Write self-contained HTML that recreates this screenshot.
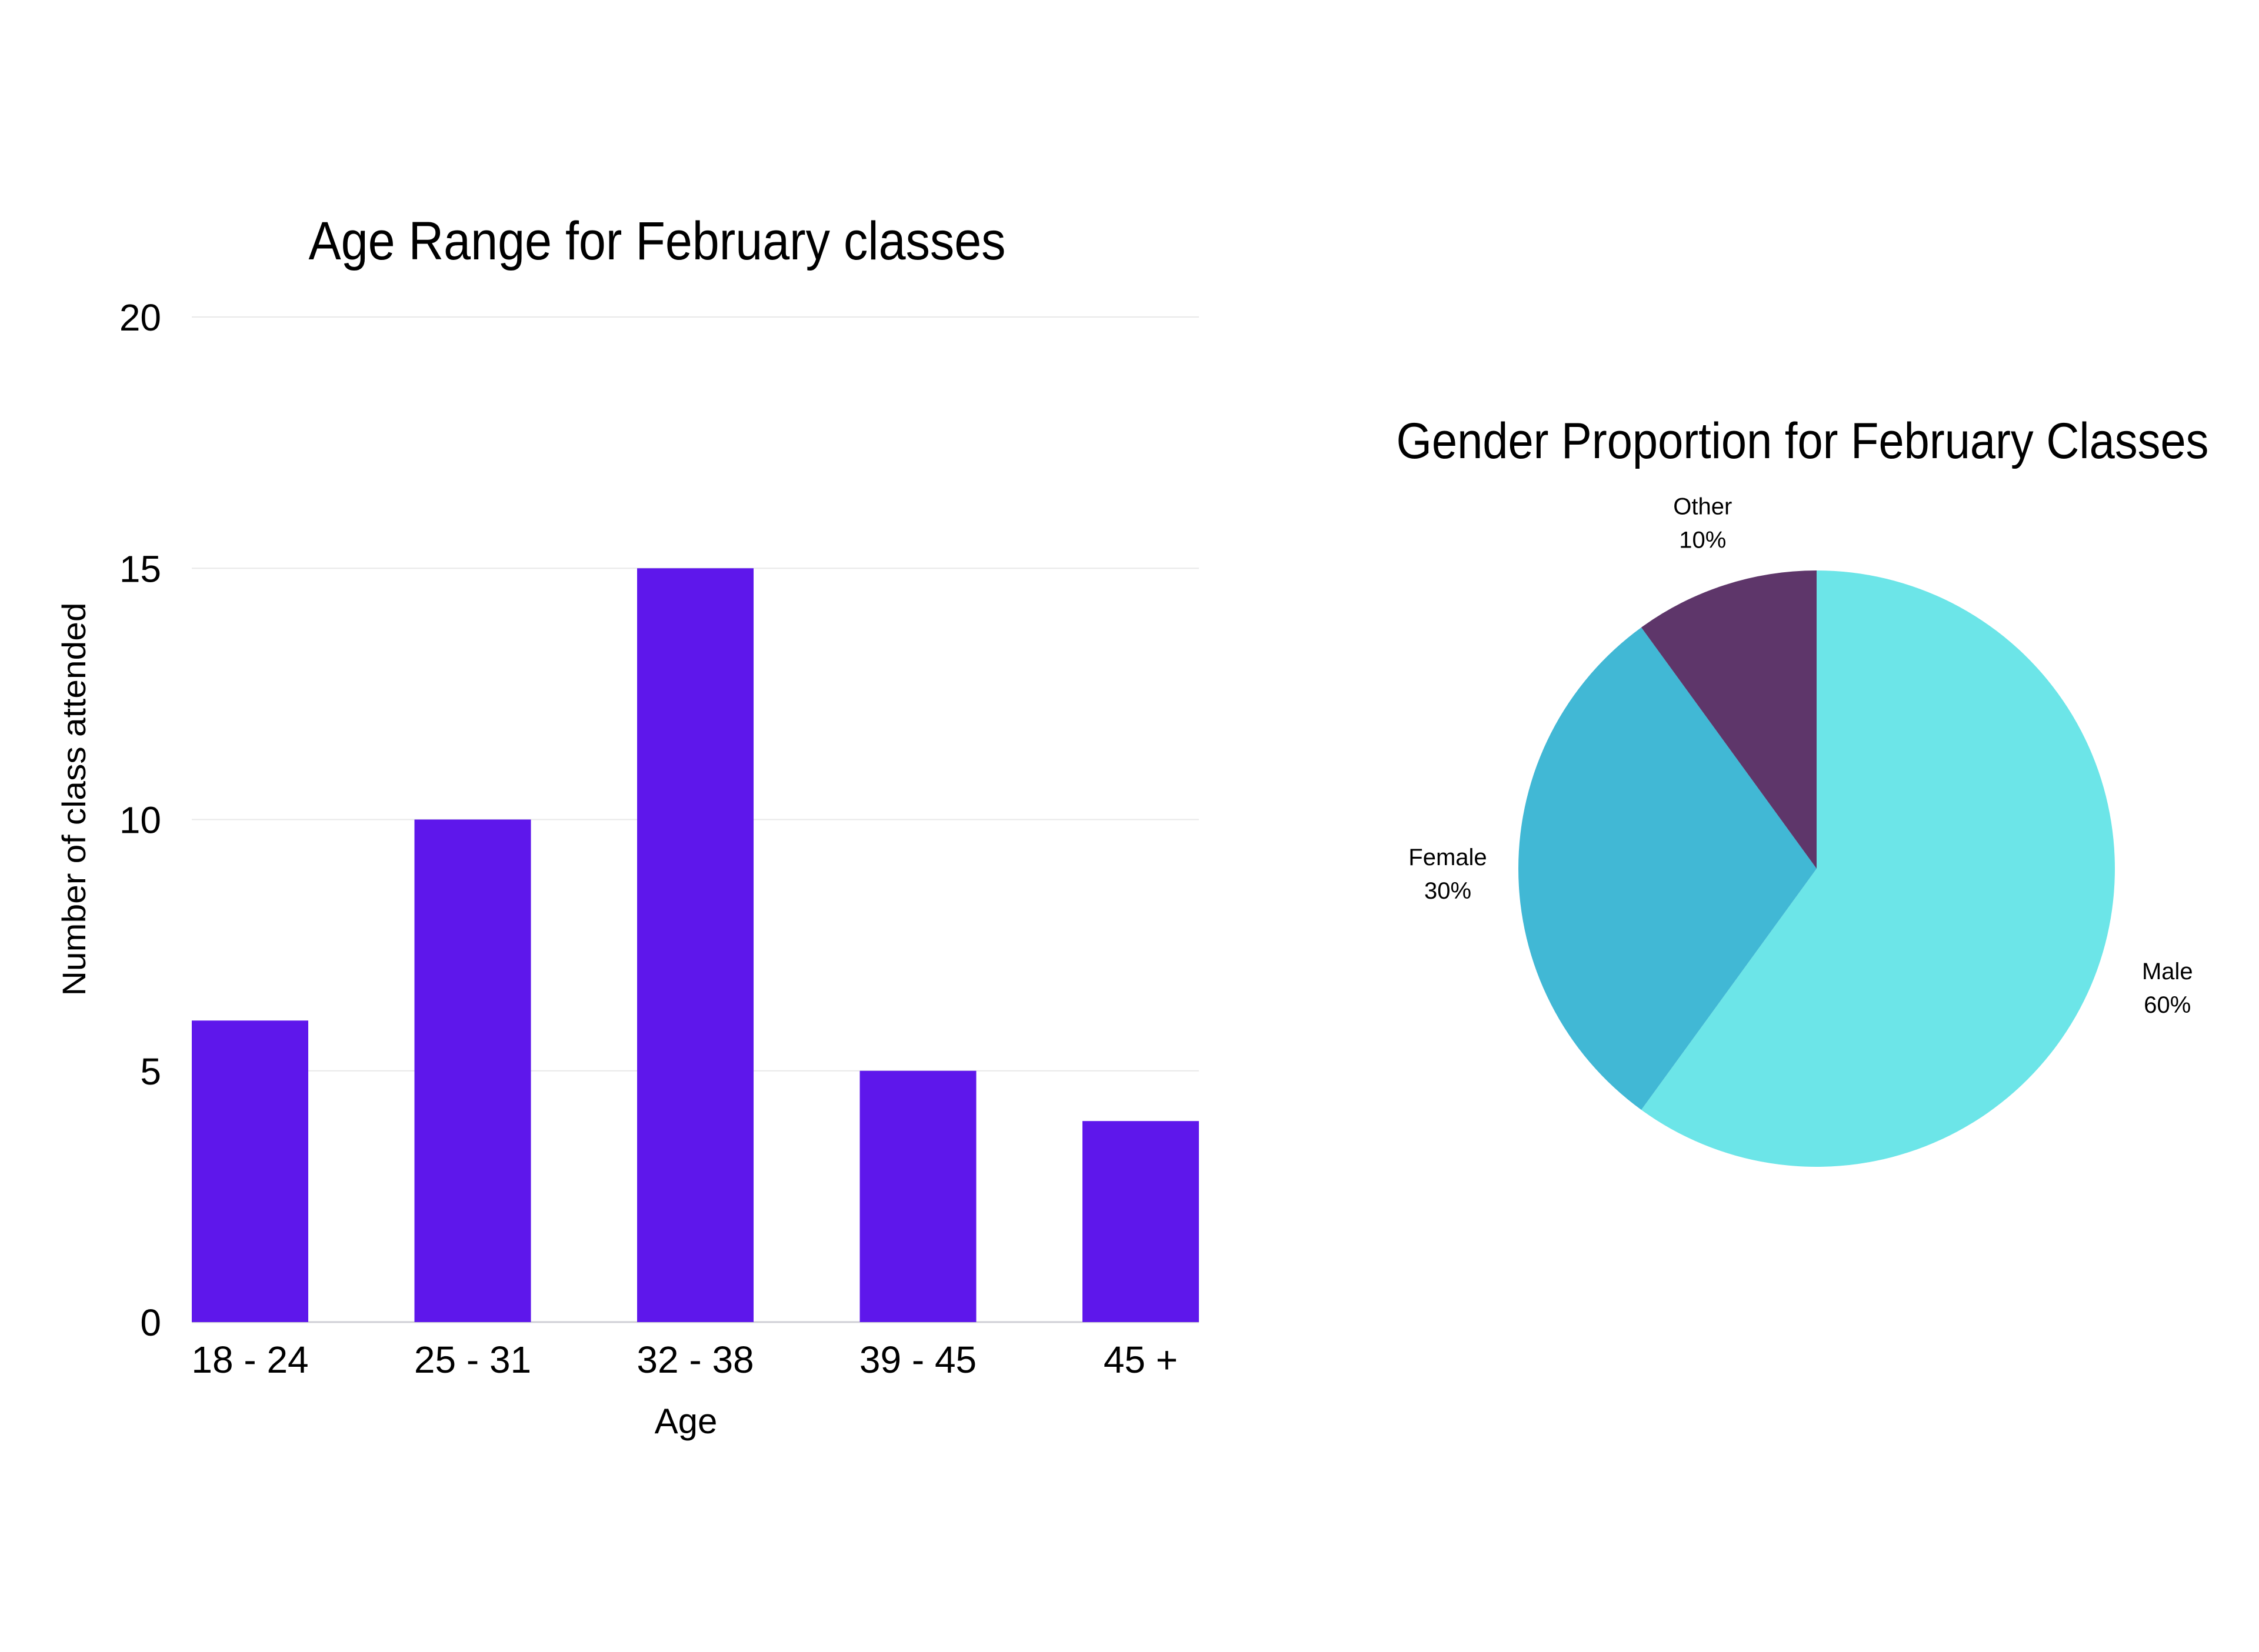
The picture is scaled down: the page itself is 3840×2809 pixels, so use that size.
<!DOCTYPE html>
<html><head><meta charset="utf-8"><style>
html,body{margin:0;padding:0;background:#fff;}
svg{display:block;font-family:"Liberation Sans",sans-serif;}
</style></head><body>
<svg id="s" width="3840" height="2809" viewBox="0 0 3840 2809" xmlns="http://www.w3.org/2000/svg">
<rect width="3840" height="2809" fill="#fff"/>
<g id="bar">
<text x="1117" y="441" font-size="92" text-anchor="middle" textLength="1185" lengthAdjust="spacingAndGlyphs">Age Range for February classes</text>
<text transform="translate(145,1359) rotate(-90)" font-size="56" text-anchor="middle" textLength="669" lengthAdjust="spacingAndGlyphs">Number of class attended</text>
<text x="1166" y="2437" font-size="60" text-anchor="middle">Age</text>
</g>
<g id="pie">
<text x="3064" y="779" font-size="86" text-anchor="middle" textLength="1381" lengthAdjust="spacingAndGlyphs">Gender Proportion for February Classes</text>
</g>
</svg>
<script>
const categories=["18 - 24","25 - 31","32 - 38","39 - 45","45 +"];
const counts=[6,10,15,5,4];
const yTicks=[0,5,10,15,20];
const sliceLabels=["Male","Female","Other"];
const sliceValues=[60,30,10];
const NS="http://www.w3.org/2000/svg";
const bar=document.getElementById('bar'), pie=document.getElementById('pie');
function mk(tag,attrs,parent){const e=document.createElementNS(NS,tag);for(const k in attrs)e.setAttribute(k,attrs[k]);parent.appendChild(e);return e;}
const L=326,R=2038,Y0=2248,Y1=539,YMAX=20;
const y=v=>Y0-(v/YMAX)*(Y0-Y1);
const step=(R-L-198)/(categories.length-1), bw=198;
const xb=i=>L+i*step;
yTicks.forEach(t=>{
  const g=mk('line',{x1:L,x2:R,y1:y(t),y2:y(t),stroke:t===0?'#cfcfd6':'#e8e8e8','stroke-width':t===0?3:2},bar);
  
  
  const tx=mk('text',{x:274,y:y(t)+23,'font-size':64,'text-anchor':'end'},bar);
  tx.textContent=t;
  
  
});
categories.forEach((c,i)=>{
  const r=mk('rect',{x:xb(i),y:y(counts[i]),width:bw,height:Y0-y(counts[i]),fill:'#5E17EB'},bar);
  
  
  const t=mk('text',{x:xb(i)+bw/2,y:2334,'font-size':64,'text-anchor':'middle'},bar);
  t.textContent=c;
  
  
});
const cx=3088,cy=1477,rad=507,colors=["#6CE5E8","#41B8D5","#5E366A"];
const total=sliceValues.reduce((a,b)=>a+b,0);
let a0=0;
sliceValues.forEach((v,i)=>{
  const a1=a0+v/total*2*Math.PI;
  const p=(a)=>[cx+rad*Math.sin(a),cy-rad*Math.cos(a)];
  const [x0,y0]=p(a0),[x1,y1]=p(a1);
  const large=(a1-a0)>Math.PI?1:0;
  const s=mk('path',{d:`M${cx},${cy} L${x0},${y0} A${rad},${rad} 0 ${large} 1 ${x1},${y1} Z`,fill:colors[i]},pie);
  
  
  const am=(a0+a1)/2, lr=rad+120;
  const lx=cx+lr*Math.sin(am), ly=cy-lr*Math.cos(am);
  const t1=mk('text',{x:lx,y:ly-6,'font-size':40,'text-anchor':'middle'},pie);
  t1.textContent=sliceLabels[i];
  
  
  const t2=mk('text',{x:lx,y:ly+51,'font-size':40,'text-anchor':'middle'},pie);
  t2.textContent=v+'%';
  
  
  a0=a1;
});
</script>
</body></html>
